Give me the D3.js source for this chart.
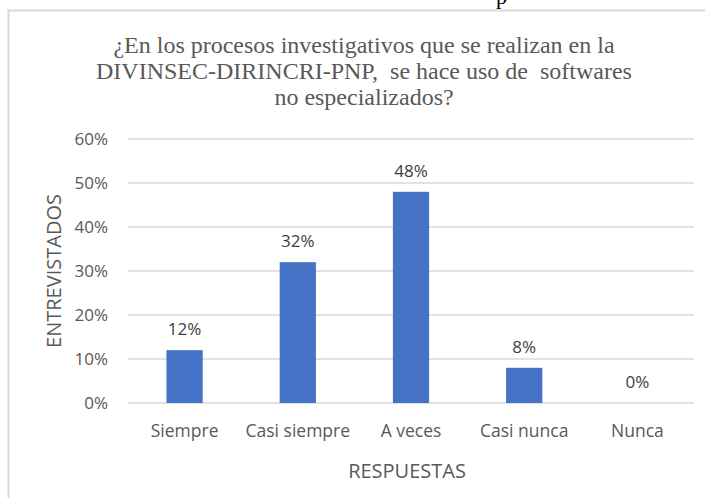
<!DOCTYPE html>
<html>
<head>
<meta charset="utf-8">
<script src="https://cdn.jsdelivr.net/npm/d3@7"></script>
<style>
  body { margin: 0; background: #fff; }
  text { font-family: "Open Sans", Lato, sans-serif; }
</style>
</head>
<body>
<div id="chart"></div>
<script>
// data
let categories = ["Siempre", "Casi siempre", "A veces", "Casi nunca", "Nunca"];
let values = [0.12, 0.32, 0.48, 0.08, 0.00];
let yTicks = [0, 0.1, 0.2, 0.3, 0.4, 0.5, 0.6];
let titleLines = [
    "¿En los procesos investigativos que se realizan en la",
    "DIVINSEC-DIRINCRI-PNP,  se hace uso de  softwares",
    "no especializados?"
];

let svgWidth = 705;
let svgHeight = 498;
let margin = { top: 139, right: 11, bottom: 95, left: 128 };
let width = svgWidth - margin.left - margin.right;
let height = svgHeight - margin.top - margin.bottom;

let svg = d3.select("#chart")
    .append("svg")
    .attr("width", svgWidth)
    .attr("height", svgHeight);

// chart area frame
svg.append("rect")
    .attr("x", 8.5).attr("y", 10.5)
    .attr("width", 720).attr("height", 520)
    .attr("fill", "#fff")
    .attr("stroke", "#d9d9d9")
    .attr("stroke-width", 2);

// cut-off text from the page above
svg.append("text")
    .attr("x", 496).attr("y", 4)
    .style("font-family", "'Liberation Serif', serif")
    .style("font-size", "22px")
    .attr("fill", "#000")
    .text("p");

let chartGroup = svg.append("g")
    .attr("transform", `translate(${margin.left}, ${margin.top})`);

let xScale = d3.scaleBand()
    .domain(categories)
    .range([0, width])
    .paddingInner(0.68)
    .paddingOuter(0.34);

let yScale = d3.scaleLinear()
    .domain([0, 0.6])
    .range([height, 0]);

// gridlines
chartGroup.append("g")
    .selectAll("line")
    .data(yTicks)
    .enter()
    .append("line")
    .attr("x1", 0).attr("x2", width)
    .attr("y1", d => yScale(d)).attr("y2", d => yScale(d))
    .attr("stroke", "#d9d9d9")
    .attr("stroke-width", 1.5);

// y axis labels
let leftAxis = d3.axisLeft(yScale)
    .tickValues(yTicks)
    .tickFormat(d3.format(".0%"))
    .tickSize(0)
    .tickPadding(20);

chartGroup.append("g")
    .call(leftAxis)
    .call(g => g.select(".domain").remove())
    .selectAll("text")
    .attr("fill", "#595959")
    .style("font-size", "17px");

// x axis labels
let bottomAxis = d3.axisBottom(xScale)
    .tickSize(0)
    .tickPadding(22);

chartGroup.append("g")
    .attr("transform", `translate(0, ${height})`)
    .call(bottomAxis)
    .call(g => g.select(".domain").remove())
    .selectAll("text")
    .attr("fill", "#595959")
    .style("font-size", "17.5px");

// bars
chartGroup.append("g")
    .selectAll("rect")
    .data(values)
    .enter()
    .append("rect")
    .attr("x", (d, i) => xScale(categories[i]))
    .attr("y", d => yScale(d))
    .attr("width", xScale.bandwidth())
    .attr("height", d => height - yScale(d))
    .attr("fill", "#4472c4");

// value labels
chartGroup.append("g")
    .selectAll("text")
    .data(values)
    .enter()
    .append("text")
    .attr("x", (d, i) => xScale(categories[i]) + xScale.bandwidth() / 2)
    .attr("y", d => yScale(d) - 15)
    .attr("text-anchor", "middle")
    .attr("fill", "#404040")
    .style("font-size", "17px")
    .text(d => d3.format(".0%")(d));

// axis titles
svg.append("text")
    .attr("transform", `translate(61, ${margin.top + height / 2}) rotate(-90)`)
    .attr("text-anchor", "middle")
    .attr("fill", "#595959")
    .style("font-size", "20px")
    .text("ENTREVISTADOS");

svg.append("text")
    .attr("x", 407)
    .attr("y", 478)
    .attr("text-anchor", "middle")
    .attr("fill", "#595959")
    .style("font-size", "20px")
    .text("RESPUESTAS");

// title
svg.append("g")
    .selectAll("text")
    .data(titleLines)
    .enter()
    .append("text")
    .attr("x", 364)
    .attr("y", (d, i) => 53 + i * 26)
    .attr("text-anchor", "middle")
    .attr("fill", "#595959")
    .attr("xml:space", "preserve")
    .style("white-space", "pre")
    .style("font-family", "'Liberation Serif', serif")
    .style("font-size", "24px")
    .text(d => d);
</script>
</body>
</html>
